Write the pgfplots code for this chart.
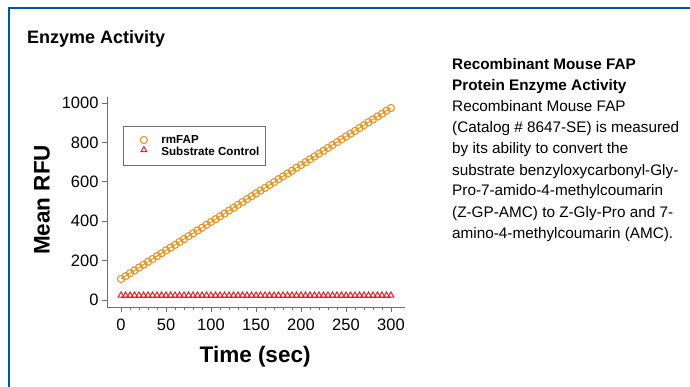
\documentclass[border=0pt]{standalone}
\usepackage{fontspec}
\setmainfont{Liberation Sans}
\usepackage{pgfplots}
\pgfplotsset{compat=1.18}
\definecolor{frameblue}{RGB}{0,88,155}
\definecolor{forange}{RGB}{230,148,35}
\definecolor{cred}{RGB}{230,30,40}
\definecolor{axgray}{RGB}{110,110,110}
\begin{document}
\begin{tikzpicture}
\useasboundingbox (0pt,0pt) rectangle (690pt,386pt);
\draw[frameblue, line width=2.5pt] (9pt,-3pt) -- (9pt,378pt) -- (693pt,378pt);
\node[anchor=base west, font=\bfseries\fontsize{18}{20}\selectfont, inner sep=0] at (27pt,342pt) {Enzyme Activity};
\begin{scope}[every node/.style={anchor=base west, inner sep=0, font=\fontsize{15.3}{18}\selectfont}]
\node at (452pt,316pt) {\bfseries Recombinant Mouse FAP};
\node at (452pt,295pt) {\bfseries Protein Enzyme Activity};
\node at (452pt,274pt) {Recombinant Mouse FAP};
\node at (452pt,253pt) {(Catalog \# 8647-SE) is measured};
\node at (452pt,232pt) {by its ability to convert the};
\node at (452pt,211pt) {substrate benzyloxycarbonyl-Gly-};
\node at (452pt,190pt) {Pro-7-amido-4-methylcoumarin};
\node at (452pt,169pt) {(Z-GP-AMC) to Z-Gly-Pro and 7-};
\node at (452pt,148pt) {amino-4-methylcoumarin (AMC).};
\end{scope}
\begin{axis}[at={(107pt,79pt)}, anchor=south west, scale only axis,
  width=298pt, height=210pt,
  xmin=-15.6, xmax=315.6, ymin=-35.5, ymax=1030,
  axis x line*=bottom, axis y line*=left,
  axis line style={axgray, line width=0.8pt, -},
  xtick={0,50,...,300}, ytick={0,200,...,1000},
  minor x tick num=4,
  tick align=outside, major tick length=5pt, minor tick length=3pt,
  tick style={axgray, line width=0.6pt},
  ticklabel style={font=\fontsize{16.5}{18}\selectfont},
  /pgf/number format/assume math mode=true,
  /pgf/number format/1000 sep={},
  scaled ticks=false,
  xticklabel style={yshift=-3.5pt},
  xlabel={Time (sec)}, ylabel={Mean RFU},
  every axis x label/.style={at={(axis description cs:0.497,-0.238)}, anchor=center, font=\bfseries\fontsize{22.5}{24}\selectfont},
  every axis y label/.style={at={(axis description cs:-0.218,0.51)}, rotate=90, anchor=center, font=\bfseries\fontsize{22.5}{24}\selectfont},
  clip=false,
  legend style={at={(axis description cs:0.054,0.862)}, anchor=north west,
    draw=axgray, fill=white, line width=0.6pt,
    font=\bfseries\fontsize{11.6}{13}\selectfont,
    inner xsep=5pt, inner ysep=8pt, row sep=0pt,
    nodes={inner sep=1pt}},
  legend cell align=left,
  legend image code/.code={\path (0pt,0pt) (31pt,0pt); \draw[#1] plot coordinates {(15pt,0pt)};},
]
\addplot[color=forange, line width=0.9pt, mark=o, mark size=3.6pt, mark options={line width=1.1pt}] coordinates {
(0,107) (5,121) (10,136) (15,150) (20,165) (25,179) (30,194) (35,208) (40,223) (45,237)
(50,252) (55,266) (60,280) (65,295) (70,309) (75,324) (80,338) (85,353) (90,367) (95,382)
(100,396) (105,410) (110,425) (115,439) (120,454) (125,468) (130,483) (135,497) (140,512) (145,526)
(150,541) (155,555) (160,569) (165,584) (170,598) (175,613) (180,627) (185,642) (190,656) (195,671)
(200,685) (205,699) (210,714) (215,728) (220,743) (225,757) (230,772) (235,786) (240,801) (245,815)
(250,830) (255,844) (260,858) (265,873) (270,887) (275,902) (280,916) (285,931) (290,945) (295,960)
(300,974)};
\addlegendentry{rmFAP}
\addplot[color=cred, line width=1pt, mark=triangle, mark size=3.4pt, mark options={line width=1pt, yshift=1.7pt}] coordinates {
(0,15) (5,15) (10,15) (15,15) (20,15) (25,15) (30,15) (35,15) (40,15) (45,15)
(50,15) (55,15) (60,15) (65,15) (70,15) (75,15) (80,15) (85,15) (90,15) (95,15)
(100,15) (105,15) (110,15) (115,15) (120,15) (125,15) (130,15) (135,15) (140,15) (145,15)
(150,15) (155,15) (160,15) (165,15) (170,15) (175,15) (180,15) (185,15) (190,15) (195,15)
(200,15) (205,15) (210,15) (215,15) (220,15) (225,15) (230,15) (235,15) (240,15) (245,15)
(250,15) (255,15) (260,15) (265,15) (270,15) (275,15) (280,15) (285,15) (290,15) (295,15)
(300,15)};
\addlegendentry{Substrate Control}
\end{axis}
\end{tikzpicture}
\end{document}
